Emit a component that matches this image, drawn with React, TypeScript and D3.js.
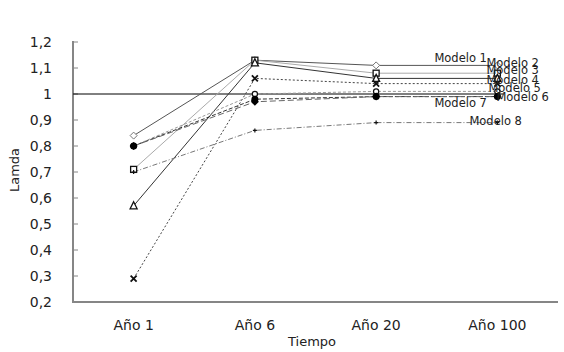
import * as d3 from "d3";

const categories = ["Año 1", "Año 6", "Año 20", "Año 100"];
const yTicks = [0.2, 0.3, 0.4, 0.5, 0.6, 0.7, 0.8, 0.9, 1, 1.1, 1.2];

const seriesNames = ["Modelo 1", "Modelo 2", "Modelo 3", "Modelo 4", "Modelo 5", "Modelo 6", "Modelo 7", "Modelo 8"];
const modelo1 = [0.84, 1.13, 1.11, 1.11];
const modelo2 = [0.71, 1.13, 1.08, 1.08];
const modelo3 = [0.57, 1.12, 1.06, 1.06];
const modelo4 = [0.29, 1.06, 1.04, 1.04];
const modelo5 = [0.8, 1.0, 1.01, 1.01];
const modelo6 = [0.8, 0.98, 0.99, 0.99];
const modelo7 = [0.8, 0.97, 0.99, 0.99];
const modelo8 = [0.7, 0.86, 0.89, 0.89];
const allSeries = [modelo1, modelo2, modelo3, modelo4, modelo5, modelo6, modelo7, modelo8];
const referenceValue = 1;

// styles per series
const styles = [
  { stroke: "#555", dash: "", marker: "diamond" },
  { stroke: "#aaa", dash: "", marker: "square" },
  { stroke: "#333", dash: "", marker: "triangle" },
  { stroke: "#444", dash: "2,2", marker: "x" },
  { stroke: "#999", dash: "3,2", marker: "circle" },
  { stroke: "#333", dash: "4,2", marker: "dot" },
  { stroke: "#666", dash: "6,3", marker: "fdiamond" },
  { stroke: "#777", dash: "5,2,1,2", marker: "plus" },
];
// data label offsets relative to last point
const labelOffsets = [
  [-63, -7], [-11, -10], [-11, -8], [-11, -4], [-9, -3], [-1, 0], [-63, 6], [-28, -2],
];

const W = 564;
const H = 352;
const left = 73;
const right = 558;
const top = 42;
const bottom = 302;

function Marker({ type, x, y }: { type: string; x: number; y: number }) {
  const s = 3;
  switch (type) {
    case "diamond":
      return <path d={`M${x},${y - s - 0.5}L${x + s + 0.5},${y}L${x},${y + s + 0.5}L${x - s - 0.5},${y}Z`} fill="#fff" stroke="#777" strokeWidth={1} />;
    case "fdiamond":
      return <path d={`M${x},${y - s - 1}L${x + s + 1},${y}L${x},${y + s + 1}L${x - s - 1},${y}Z`} fill="#000" />;
    case "square":
      return <rect x={x - s} y={y - s} width={2 * s} height={2 * s} fill="#fff" stroke="#111" strokeWidth={1.3} />;
    case "triangle":
      return <path d={`M${x},${y - s - 1}L${x + s + 0.5},${y + s}L${x - s - 0.5},${y + s}Z`} fill="#fff" stroke="#111" strokeWidth={1.3} />;
    case "x":
      return <path d={`M${x - s},${y - s}L${x + s},${y + s}M${x + s},${y - s}L${x - s},${y + s}`} stroke="#111" strokeWidth={1.8} />;
    case "circle":
      return <circle cx={x} cy={y} r={2.6} fill="#fff" stroke="#111" strokeWidth={1.2} />;
    case "dot":
      return <circle cx={x} cy={y} r={3.5} fill="#000" />;
    case "plus":
      return <path d={`M${x - 2},${y}L${x + 2},${y}M${x},${y - 2}L${x},${y + 2}`} stroke="#111" strokeWidth={1.2} />;
    default:
      return null;
  }
}

export default function App() {
  const x = d3.scaleBand<string>().domain(categories).range([left, right]);
  const cx = (c: string) => (x(c) as number) + x.bandwidth() / 2;
  const y = d3.scaleLinear().domain([0.2, 1.2]).range([bottom, top]);
  const line = d3
    .line<number>()
    .x((_, i) => cx(categories[i]))
    .y((d) => y(d));
  const font = "'DejaVu Sans', Verdana, sans-serif";
  const lastX = cx(categories[categories.length - 1]);

  return (
    <svg width={W} height={H} style={{ position: "absolute", left: 0, top: 0, background: "#fff" }} fontFamily={font}>
      {/* y axis */}
      <line x1={left} x2={left} y1={top - 1} y2={bottom + 1} stroke="#868686" strokeWidth={2} />
      {yTicks.map((t) => (
        <g key={t}>
          <line x1={left} x2={left + 5} y1={y(t)} y2={y(t)} stroke="#868686" strokeWidth={1} />
          <text x={52} y={y(t)} dy="0.35em" textAnchor="end" fontSize={14} fill="#222">
            {d3.format(".1f")(t).replace(/\.0$/, "").replace(".", ",")}
          </text>
        </g>
      ))}
      {/* x axis */}
      <line x1={left} x2={right} y1={bottom} y2={bottom} stroke="#868686" strokeWidth={2} />
      {categories.map((c) => (
        <text key={c} x={cx(c)} y={325} dy="0.35em" textAnchor="middle" fontSize={14} fill="#222">
          {c}
        </text>
      ))}
      {/* reference line */}
      <line x1={left} x2={lastX + 6} y1={y(referenceValue)} y2={y(referenceValue)} stroke="#000" strokeWidth={1} />
      {/* series lines */}
      {allSeries.map((s, i) => (
        <path key={i} d={line(s) || ""} fill="none" stroke={styles[i].stroke} strokeWidth={1} strokeDasharray={styles[i].dash} />
      ))}
      {/* markers */}
      {allSeries.map((s, i) =>
        s.map((v, j) => <Marker key={`${i}-${j}`} type={styles[i].marker} x={cx(categories[j])} y={y(v)} />)
      )}
      {/* data labels */}
      {allSeries.map((s, i) => (
        <text
          key={seriesNames[i]}
          x={lastX + labelOffsets[i][0]}
          y={y(s[s.length - 1]) + labelOffsets[i][1]}
          dy="0.35em"
          fontSize={11.5}
          fill="#222"
        >
          {seriesNames[i]}
        </text>
      ))}
      {/* axis titles */}
      <text x={312} y={341} dy="0.35em" textAnchor="middle" fontSize={13} fill="#222">
        Tiempo
      </text>
      <text transform={`translate(14,170) rotate(-90)`} textAnchor="middle" dy="0.35em" fontSize={13} fill="#222">
        Lamda
      </text>
    </svg>
  );
}
